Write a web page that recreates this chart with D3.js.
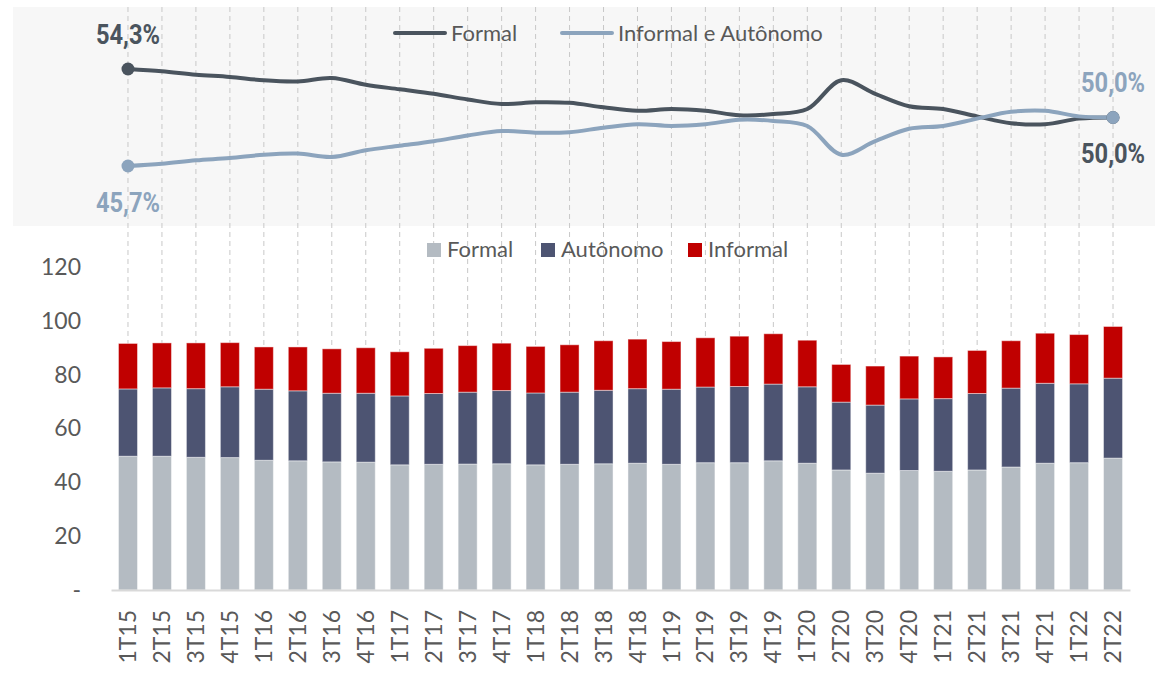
<!DOCTYPE html>
<html>
<head>
<meta charset="utf-8">
<script src="https://cdn.jsdelivr.net/npm/d3@7"></script>
<style>
  body { margin: 0; background: #fff; }
  text { font-family: Lato, "Open Sans", sans-serif; }
</style>
</head>
<body>
<div id="chart"></div>
<script>
// categories (quarters)
var quarters = ["1T15","2T15","3T15","4T15","1T16","2T16","3T16","4T16","1T17","2T17",
  "3T17","4T17","1T18","2T18","3T18","4T18","1T19","2T19","3T19","4T19",
  "1T20","2T20","3T20","4T20","1T21","2T21","3T21","4T21","1T22","2T22"];

// top panel: share (%) of each group
var shareFormal = [54.3, 54.1, 53.8, 53.6, 53.3, 53.2, 53.5, 52.9, 52.5, 52.1,
  51.6, 51.2, 51.35, 51.3, 50.9, 50.6, 50.75, 50.6, 50.2, 50.3,
  50.75, 53.3, 52.1, 51.0, 50.75, 50.1, 49.5, 49.4, 49.9, 50.0];
var shareInformal = [45.7, 45.9, 46.2, 46.4, 46.7, 46.8, 46.5, 47.1, 47.5, 47.9,
  48.4, 48.8, 48.65, 48.7, 49.1, 49.4, 49.25, 49.4, 49.8, 49.7,
  49.25, 46.7, 47.9, 49.0, 49.25, 49.9, 50.5, 50.6, 50.1, 50.0];

// bottom panel: stacked values
var formal = [49.7, 49.7, 49.3, 49.2, 48.2, 48.0, 47.6, 47.5, 46.5, 46.7,
  46.8, 46.9, 46.5, 46.7, 46.9, 47.1, 46.7, 47.3, 47.3, 48.0,
  47.1, 44.6, 43.4, 44.4, 44.1, 44.6, 45.7, 47.1, 47.3, 49.0];
var autonomo = [25.0, 25.4, 25.5, 26.3, 26.4, 26.0, 25.5, 25.6, 25.6, 26.3,
  26.7, 27.2, 26.7, 26.8, 27.3, 27.7, 27.9, 28.1, 28.3, 28.5,
  28.4, 25.2, 25.3, 26.6, 27.0, 28.4, 29.3, 29.7, 29.3, 29.7];
var informal = [16.9, 16.7, 17.0, 16.4, 15.7, 16.3, 16.5, 16.9, 16.4, 16.8,
  17.3, 17.6, 17.3, 17.6, 18.4, 18.4, 17.7, 18.3, 18.7, 18.7,
  17.3, 14.0, 14.5, 15.9, 15.5, 16.0, 17.6, 18.6, 18.3, 19.2];

var yTicks = [0, 20, 40, 60, 80, 100, 120];

var svgWidth = 1166;
var svgHeight = 678;

var svg = d3.select("#chart")
  .append("svg")
  .attr("width", svgWidth)
  .attr("height", svgHeight);

var x = d3.scaleBand()
  .domain(quarters)
  .range([111, 1130])
  .paddingInner(0.44)
  .paddingOuter(0.22);

var cx = d => x(d) + x.bandwidth() / 2;

// bars y scale
var yBar = d3.scaleLinear().domain([0, 120]).range([590, 267]);
// share lines y scale
var yShare = d3.scaleLinear().domain([45, 55]).range([173.9, 61.1]);

var dark = "#4a545e";
var light = "#8ca4bd";
var labelGrey = "#595959";

// grey background of the top panel
svg.append("rect")
  .attr("x", 13).attr("y", 7)
  .attr("width", 1142).attr("height", 219)
  .attr("fill", "#f7f7f7");

// dashed vertical guides through both panels
svg.append("g")
  .selectAll("line")
  .data(quarters)
  .enter()
  .append("line")
  .attr("x1", cx).attr("x2", cx)
  .attr("y1", 7).attr("y2", 590)
  .attr("stroke", "#c8c8c8")
  .attr("stroke-width", 1)
  .attr("stroke-dasharray", "5,4");

// ---- top panel: share lines
var line = d3.line()
  .x((d, i) => cx(quarters[i]))
  .y(d => yShare(d))
  .curve(d3.curveCatmullRom.alpha(0.5));

svg.append("path")
  .datum(shareFormal)
  .attr("d", line)
  .attr("fill", "none")
  .attr("stroke", dark)
  .attr("stroke-width", 4);

svg.append("path")
  .datum(shareInformal)
  .attr("d", line)
  .attr("fill", "none")
  .attr("stroke", light)
  .attr("stroke-width", 4);

var last = quarters.length - 1;

// end markers
svg.append("circle").attr("cx", cx(quarters[0])).attr("cy", yShare(shareFormal[0])).attr("r", 6.5).attr("fill", dark);
svg.append("circle").attr("cx", cx(quarters[last])).attr("cy", yShare(shareFormal[last])).attr("r", 6.5).attr("fill", dark);
svg.append("circle").attr("cx", cx(quarters[0])).attr("cy", yShare(shareInformal[0])).attr("r", 6.5).attr("fill", light);
svg.append("circle").attr("cx", cx(quarters[last])).attr("cy", yShare(shareInformal[last])).attr("r", 6.5).attr("fill", light);

var fmt = v => v.toFixed(1).replace(".", ",") + "%";

// condensed bold labels: squeeze a bold face into the measured width
function valueLabel(txt, px, py, color) {
  svg.append("text")
    .attr("x", px).attr("y", py)
    .attr("text-anchor", "middle")
    .attr("textLength", 64)
    .attr("lengthAdjust", "spacingAndGlyphs")
    .style("font-family", "Roboto, sans-serif")
    .style("font-weight", "bold")
    .style("font-size", "27px")
    .attr("fill", color)
    .text(txt);
}
valueLabel(fmt(shareFormal[0]), cx(quarters[0]), 44, dark);
valueLabel(fmt(shareInformal[0]), cx(quarters[0]), 212, light);
valueLabel(fmt(shareInformal[last]), cx(quarters[last]), 92, light);
valueLabel(fmt(shareFormal[last]), cx(quarters[last]), 163, dark);

// top legend
var topLegend = [
  { name: "Formal", color: dark, x: 395 },
  { name: "Informal e Autônomo", color: light, x: 562 }
];
var tl = svg.append("g")
  .selectAll("g")
  .data(topLegend)
  .enter()
  .append("g")
  .attr("transform", d => `translate(${d.x}, 33)`);
tl.append("line")
  .attr("x1", 0).attr("x2", 50)
  .attr("stroke", d => d.color)
  .attr("stroke-width", 4)
  .attr("stroke-linecap", "round");
tl.append("text")
  .attr("x", 56).attr("y", 8)
  .style("font-size", "22px")
  .attr("fill", labelGrey)
  .text(d => d.name);

// ---- bottom panel: stacked bars
var keys = ["formal", "autonomo", "informal"];
var colors = { formal: "#b4bbc2", autonomo: "#4d5472", informal: "#c00000" };
var rows = quarters.map((q, i) => ({ q: q, formal: formal[i], autonomo: autonomo[i], informal: informal[i] }));
var series = d3.stack().keys(keys)(rows);

svg.append("g")
  .selectAll("g")
  .data(series)
  .enter()
  .append("g")
  .attr("fill", d => colors[d.key])
  .selectAll("rect")
  .data(d => d)
  .enter()
  .append("rect")
  .attr("x", d => x(d.data.q))
  .attr("width", x.bandwidth())
  .attr("y", d => yBar(d[1]))
  .attr("height", d => yBar(d[0]) - yBar(d[1]))
  .attr("stroke", "rgba(255,255,255,0.45)")
  .attr("stroke-width", 1);

// y axis
var leftAxis = d3.axisLeft(yBar)
  .tickValues(yTicks)
  .tickSize(0)
  .tickPadding(7)
  .tickFormat(d => d === 0 ? "-" : d);
var yAxis = svg.append("g")
  .attr("transform", "translate(88, 0)")
  .call(leftAxis);
yAxis.select(".domain").remove();
yAxis.selectAll("text")
  .style("font-family", "Lato, sans-serif")
  .style("font-size", "23px")
  .attr("fill", labelGrey);

// x axis
var bottomAxis = d3.axisBottom(x).tickSize(0).tickSizeOuter(0);
var xAxis = svg.append("g")
  .attr("transform", "translate(0, 590)")
  .call(bottomAxis);
xAxis.select(".domain")
  .attr("stroke", "#d9d9d9")
  .attr("stroke-width", 2);
xAxis.selectAll("text")
  .attr("transform", "rotate(-90)")
  .attr("x", -20)
  .attr("y", 0)
  .attr("dy", "0.35em")
  .attr("text-anchor", "end")
  .style("font-family", "Lato, sans-serif")
  .style("font-size", "23px")
  .attr("fill", labelGrey);

// bottom legend
var barLegend = [
  { name: "Formal", key: "formal", x: 427 },
  { name: "Autônomo", key: "autonomo", x: 541 },
  { name: "Informal", key: "informal", x: 688 }
];
var bl = svg.append("g")
  .selectAll("g")
  .data(barLegend)
  .enter()
  .append("g")
  .attr("transform", d => `translate(${d.x}, 243)`);
bl.append("rect")
  .attr("width", 14).attr("height", 14)
  .attr("fill", d => colors[d.key]);
bl.append("text")
  .attr("x", 20).attr("y", 14)
  .style("font-size", "22px")
  .attr("fill", labelGrey)
  .text(d => d.name);
</script>
</body>
</html>
